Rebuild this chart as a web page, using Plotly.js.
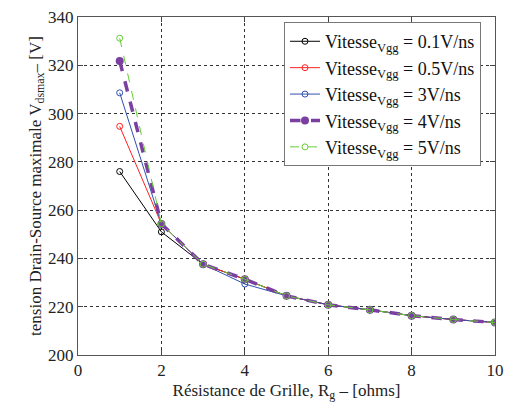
<!DOCTYPE html>
<html><head><meta charset="utf-8">
<script src="https://cdn.plot.ly/plotly-3.0.1.min.js"></script>
<style>html,body{margin:0;padding:0;background:#fff}
#chart svg text{font-family:'Liberation Serif','DejaVu Serif',serif !important;}</style>
</head><body><div id="chart" style="width:505px;height:405px"></div>
<script>
const rg = [1,2,3,4,5,6,7,8,9,10];
const v01 = [276,251,237.6,231.4,224.5,220.8,218.7,216.3,214.7,213.5];
const v05 = [294.7,254.3,237.6,231.4,224.5,220.8,218.7,216.3,214.7,213.5];
const v3  = [308.6,254.3,237.6,229.4,224.5,220.8,218.7,216.3,214.7,213.5];
const v4  = [321.8,254.3,237.6,231.4,224.5,220.8,218.7,216.3,214.7,213.5];
const v5  = [331.2,254.3,237.6,231.4,224.5,220.8,218.7,216.3,214.7,213.5];
const names = ['Vitesse<sub>Vgg</sub> = 0.1V/ns','Vitesse<sub>Vgg</sub> = 0.5V/ns','Vitesse<sub>Vgg</sub> = 3V/ns','Vitesse<sub>Vgg</sub> = 4V/ns','Vitesse<sub>Vgg</sub> = 5V/ns'];
const xTicks = [0,2,4,6,8,10];
const yTicks = [200,220,240,260,280,300,320,340];

const ser = [v01,v05,v3,v4,v5];
const styles = [
  {line:{color:'#000000',width:1},marker:{symbol:'circle-open',size:6,color:'#000000'}},
  {line:{color:'#ff2020',width:1},marker:{symbol:'circle-open',size:6,color:'#ff2020'}},
  {line:{color:'#3050b0',width:1},marker:{symbol:'circle-open',size:6,color:'#3050b0'}},
  {line:{color:'#7a3fa0',width:3.5,dash:'dash'},marker:{symbol:'circle',size:8,color:'#7a3fa0'}},
  {line:{color:'#66cc33',width:1,dash:'dash'},marker:{symbol:'circle-open',size:6,color:'#66cc33'}}
];
const data = ser.map((y,i)=>Object.assign({x:rg,y:y,type:'scatter',mode:'lines+markers',name:names[i]},styles[i]));

const FAM = 'Liberation Serif';
const layout = {
  width:505,height:405,
  margin:{l:78,r:10,t:17,b:50},
  paper_bgcolor:'#fff',plot_bgcolor:'#fff',
  font:{family:FAM,color:'#222',size:17},
  showlegend:true,
  legend:{x:0.494,y:0.985,xanchor:'left',yanchor:'top',bgcolor:'#fff',bordercolor:'#777',borderwidth:1,
          font:{family:FAM,size:18,color:'#111'},tracegroupgap:0,itemwidth:30},
  xaxis:{range:[0,10],tickvals:xTicks,ticktext:xTicks.map(String),ticks:'inside',ticklen:5,tickcolor:'#444',
         showline:true,linecolor:'#555',linewidth:1,mirror:'ticks',
         showgrid:true,gridcolor:'#333',griddash:'dot',gridwidth:1,zeroline:false,
         tickfont:{family:FAM,size:17,color:'#222'},
         title:{text:'Résistance de Grille, R<sub>g</sub> – [ohms]',font:{family:FAM,size:17,color:'#222'},standoff:4}},
  yaxis:{range:[200,340],tickvals:yTicks,ticktext:yTicks.map(String),ticks:'inside',ticklen:5,tickcolor:'#444',
         showline:true,linecolor:'#555',linewidth:1,mirror:'ticks',
         showgrid:true,gridcolor:'#333',griddash:'dot',gridwidth:1,zeroline:false,
         tickfont:{family:FAM,size:17,color:'#222'},
         title:{text:'tension Drain-Source maximale V<sub>dsmax</sub>– [V]',font:{family:FAM,size:17,color:'#222'},standoff:2}}
};
Plotly.newPlot('chart',data,layout,{displayModeBar:false,staticPlot:true});
</script></body></html>
